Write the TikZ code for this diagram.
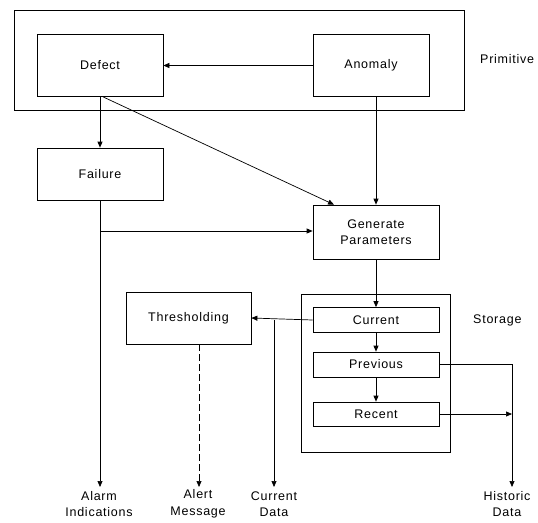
\documentclass[tikz,border=0pt]{standalone}
\usepackage{fontspec}
\setmainfont{Liberation Sans}[LetterSpace=6]
\usetikzlibrary{arrows.meta}
\begin{document}
\begin{tikzpicture}[x=1pt,y=-1pt,
  box/.style={draw,line width=0.7pt},
  lbl/.style={font=\fontsize{12.5}{16.5}\selectfont,align=center,inner sep=0pt},
  conn/.style={line width=0.7pt,-{Triangle[length=6pt,width=5pt]}}]
\useasboundingbox (0,0) rectangle (538,522);
% boxes
\draw[box] (14,10) rectangle (464,110);
\node[box,minimum width=126pt,minimum height=62pt,lbl] (defect) at (100,65.5) {Defect};
\node[box,minimum width=116pt,minimum height=62pt,lbl] (anomaly) at (371,65.5) {Anomaly};
\node[lbl,anchor=west] (prim) at (480,59) {Primitive};
\node[box,minimum width=126pt,minimum height=52pt,lbl] (failure) at (100,174) {Failure};
\node[box,minimum width=126pt,minimum height=54pt,lbl] (gen) at (376,232) {Generate\\Parameters};
\node[box,minimum width=125pt,minimum height=52pt,lbl] (thr) at (188.5,318) {Thresholding};
\draw[box] (301,294) rectangle (450,452);
\node[lbl,anchor=west] (stor) at (473,320) {Storage};
\node[box,minimum width=126pt,minimum height=25pt,lbl] (cur) at (376,320) {Current};
\node[box,minimum width=126pt,minimum height=25pt,lbl] (prev) at (376,364.5) {Previous};
\node[box,minimum width=126pt,minimum height=24pt,lbl] (rec) at (376,414) {Recent};
% outputs
\node[lbl] (alarm) at (99,504) {Alarm\\Indications};
\node[lbl] (alert) at (198,504) {Alert\\Message};
\node[lbl] (cdata) at (274,504) {Current\\Data};
\node[lbl] (hist) at (507,504) {Historic\\Data};
\coordinate (alarmT) at (100,487);
\coordinate (alertT) at (199,487);
\coordinate (cdataT) at (274,487);
\coordinate (histT) at (512,487);
% connectors
\draw[conn] (anomaly.west) -- (defect.east);
\draw[conn] (defect.south) -- (failure.north);
\draw[conn] ([xshift=3pt]defect.south) -- ([xshift=-42pt]gen.north);
\draw[conn] (anomaly.south -| gen.north) -- (gen.north);
\draw[conn] (failure.south) -- (alarmT);
\draw[conn] (failure.south |- 0,231) -- (gen.west |- 0,231);
\draw[conn] (gen.south) -- (cur.north);
\draw[conn] (cur.west) -- (thr.east);
\draw[conn] (cdataT |- cur.west) -- (cdataT);
\draw[conn,dash pattern=on 7pt off 3pt] (thr.south -| alertT) -- (alertT);
\draw[conn] (cur.south) -- (prev.north);
\draw[conn] (prev.south) -- (rec.north);
\draw[conn] (prev.east) -- (histT |- prev.east) -- (histT);
\draw[conn] (rec.east) -- (histT |- rec.east);
\end{tikzpicture}
\end{document}
